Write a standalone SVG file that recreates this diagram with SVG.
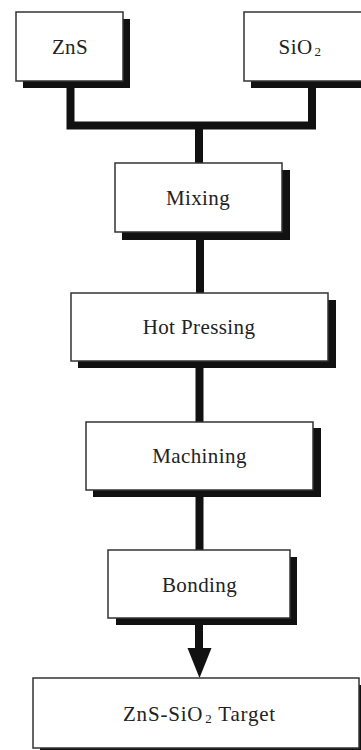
<svg xmlns="http://www.w3.org/2000/svg" width="361" height="750" viewBox="0 0 361 750">
<style>
.box{fill:#fff;stroke:#333;stroke-width:1.5}
.sh{fill:#111}
.t{font-family:"Liberation Serif","Times New Roman",serif;font-size:21px;fill:#222;text-anchor:middle;letter-spacing:0.4px}
.sub{font-size:13px}
.c{fill:none;stroke:#111;stroke-width:8;stroke-linecap:butt;stroke-linejoin:miter}
</style>
<rect width="361" height="750" fill="#fff"/>
<g id="connectors">
<path class="c" d="M70.5 88 V125.5 H312 V88"/>
<path class="c" d="M199 125.5 V163"/>
<path class="c" d="M200 240 V293"/>
<path class="c" d="M199.5 368 V422"/>
<path class="c" d="M199.5 497 V550"/>
<path class="c" d="M199 625 V650"/>
<polygon fill="#111" points="187.5,648 211.5,648 199.5,678"/>
</g>
<g id="zns">
<rect class="sh" x="23" y="19" width="107" height="69"/>
<rect class="box" x="16" y="12" width="107" height="69"/>
<text class="t" x="70" y="54">ZnS</text>
</g>
<g id="sio2">
<rect class="sh" x="251" y="19" width="120" height="69"/>
<rect class="box" x="244" y="12" width="122" height="69"/>
<text class="t" x="300" y="54">SiO<tspan class="sub" dx="2" dy="2">2</tspan></text>
</g>
<g id="mixing">
<rect class="sh" x="122" y="170" width="168" height="70"/>
<rect class="box" x="115" y="163" width="167" height="69"/>
<text class="t" x="198" y="205">Mixing</text>
</g>
<g id="hotpressing">
<rect class="sh" x="78" y="300" width="258" height="68"/>
<rect class="box" x="71" y="293" width="257" height="68"/>
<text class="t" x="199" y="334">Hot Pressing</text>
</g>
<g id="machining">
<rect class="sh" x="93" y="428" width="228" height="69"/>
<rect class="box" x="86" y="422" width="227" height="68"/>
<text class="t" x="199.5" y="463">Machining</text>
</g>
<g id="bonding">
<rect class="sh" x="116" y="557" width="181" height="68"/>
<rect class="box" x="108" y="550" width="182" height="68"/>
<text class="t" x="199.5" y="592">Bonding</text>
</g>
<g id="target">
<rect class="sh" x="40" y="685" width="327" height="70"/>
<rect class="box" x="33" y="678" width="326" height="70"/>
<text class="t" x="199.5" y="721" style="letter-spacing:0.8px">ZnS-SiO<tspan class="sub" dx="2" dy="2">2</tspan><tspan dy="-2"> Target</tspan></text>
</g>
</svg>
